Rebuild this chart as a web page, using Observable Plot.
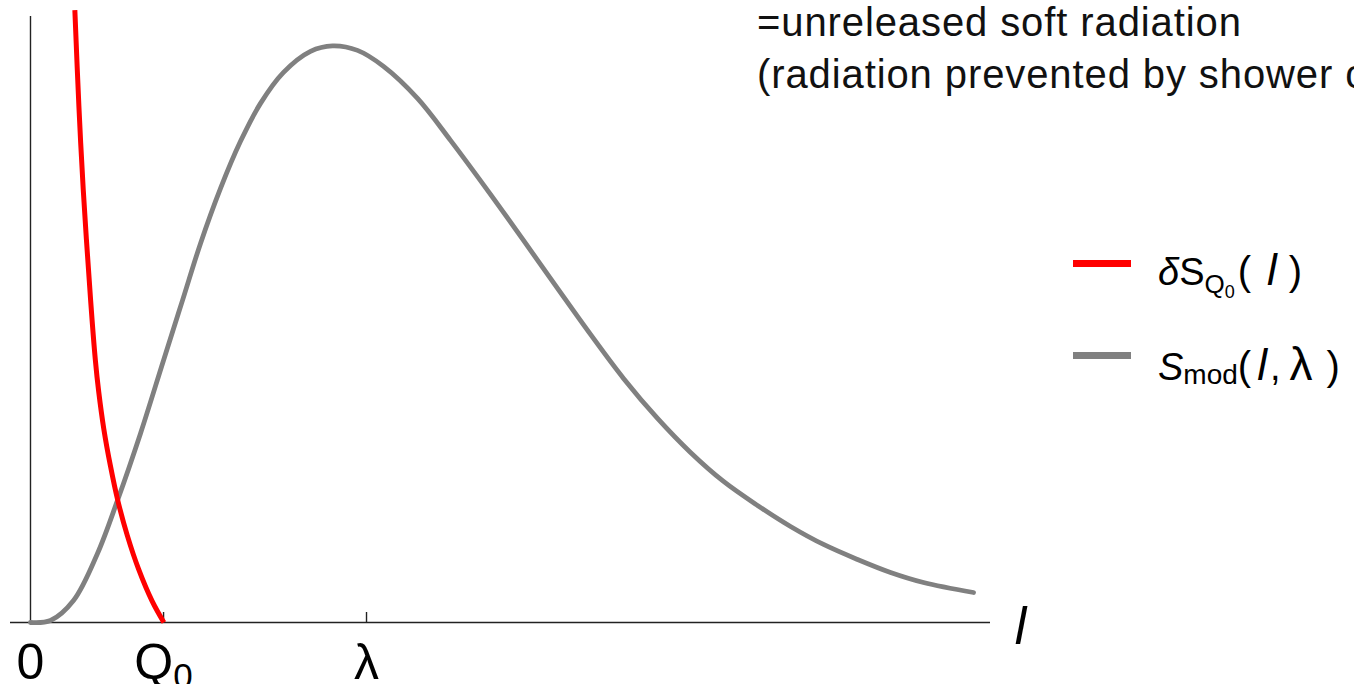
<!DOCTYPE html>
<html>
<head>
<meta charset="utf-8">
<script src="https://cdn.jsdelivr.net/npm/d3@7"></script>
<script src="https://cdn.jsdelivr.net/npm/@observablehq/plot@0.6"></script>
<style>
  html, body { margin: 0; padding: 0; background: #fff; overflow: hidden; }
  #wrap { position: relative; width: 1354px; height: 684px; overflow: hidden;
          font-family: "Liberation Sans", Arial, sans-serif; color: #000; }
  #wrap svg { position: absolute; left: 0; top: 0; }
  .note { position: absolute; left: 757px; top: -4px; font-size: 40px; line-height: 52px;
          letter-spacing: 0.9px; white-space: nowrap; color: #111; }
  .swatch { position: absolute; left: 1073px; width: 58px; height: 7px; }
  .leg { position: absolute; left: 1158px; font-size: 38px; line-height: 38px; white-space: nowrap; }
  .s1 { font-size: 26px; position: relative; top: 8px; }
  .s2 { font-size: 18px; position: relative; top: 5px; }
  .s3 { font-size: 28px; position: relative; top: 4px; }
  .p { font-size: 40px; }
  .li { font-size: 44px; font-style: italic; }
  .gl { font-size: 46px; }
</style>
</head>
<body>
<div id="wrap"></div>
<script>
// ---- data (x in units of λ, y relative to the S_mod peak) ----
const lGray = [0, 0.0595, 0.128, 0.1994, 0.2589, 0.3274, 0.3958, 0.4524, 0.5060, 0.5655, 0.6250,
               0.6845, 0.7530, 0.8333, 0.8988, 0.9732, 1.0506, 1.1518, 1.2500, 1.3690, 1.4673,
               1.5685, 1.6667, 1.7649, 1.8661, 1.9643, 2.0625, 2.1637, 2.2619, 2.3601, 2.4613,
               2.5595, 2.6577, 2.8065];
const sMod  = [0, 0.0035, 0.0381, 0.1196, 0.2115, 0.3276, 0.4541, 0.5581, 0.6568, 0.7522, 0.8337,
               0.8995, 0.9532, 0.9896, 0.9991, 0.9913, 0.9636, 0.9081, 0.8354, 0.7418, 0.6620,
               0.5789, 0.4991, 0.4229, 0.3536, 0.2946, 0.2444, 0.2028, 0.1664, 0.1352, 0.1092,
               0.0867, 0.0693, 0.0520];
const lRed   = [0.132, 0.144, 0.157, 0.179, 0.193, 0.203, 0.218, 0.238, 0.260, 0.288, 0.322, 0.362, 0.397];
const deltaS = [1.061, 0.895, 0.750, 0.558, 0.455, 0.400, 0.336, 0.271, 0.211, 0.151, 0.092, 0.037, 0];

const tickPositions = [0, 0.396, 1];
const tickLabels = ["0", "Q_0", "λ"];
const axisLabel = "l";
const legendLabels = [
  '<i>δ</i>S<span class="s1">Q<span class="s2">0</span></span><span class="p" style="margin-left:3px">(</span><span class="li" style="margin:0 12px 0 16px">l</span><span class="p">)</span>',
  '<i>S</i><span class="s3">mod</span><span class="p">(</span><span class="li" style="margin:0 3px 0 6px">l</span>,<span class="gl" style="margin:0 14px 0 9px">λ</span><span class="p">)</span>'
];
const legendColors = ["#ff0000", "#808080"];
const noteLines = ["=unreleased soft radiation", "(radiation prevented by shower c"];

// ---- chart ----
const grayData = lGray.map((l, i) => ({l, s: sMod[i]}));
const redData = lRed.map((l, i) => ({l, s: deltaS[i]}));

const chart = Plot.plot({
  width: 1354, height: 684,
  marginLeft: 10, marginRight: 364, marginTop: 16, marginBottom: 62,
  x: {domain: [-0.0595, 2.857], axis: null},
  y: {domain: [0, 1.05], axis: null},
  style: {fontFamily: "Liberation Sans, Arial, sans-serif", background: "transparent", overflow: "visible"},
  marks: [
    Plot.ruleY([0], {stroke: "#222", strokeWidth: 1.4}),
    Plot.ruleX([0], {stroke: "#222", strokeWidth: 1.4}),
    Plot.ruleX(tickPositions.slice(1), {y1: 0, y2: 0.0173, stroke: "#222", strokeWidth: 1.4}),
    Plot.line(grayData, {x: "l", y: "s", stroke: legendColors[1], strokeWidth: 4.8, curve: "catmull-rom"}),
    Plot.line(redData, {x: "l", y: "s", stroke: legendColors[0], strokeWidth: 5, curve: "catmull-rom", strokeLinecap: "butt"}),
    Plot.text(tickLabels, {x: (d, i) => tickPositions[i], y: 0, text: d => d, dy: 56,
      lineAnchor: "bottom", textAnchor: "middle", fontSize: 50, fill: "#000"}),
    Plot.text([axisLabel], {frameAnchor: "bottom-right", text: d => d, dx: 30, dy: 21,
      lineAnchor: "bottom", textAnchor: "middle", fontSize: 52, fontStyle: "italic", fill: "#000"})
  ]
});

// subscripts in tick labels ("Q_0")
const ns = "http://www.w3.org/2000/svg";
chart.querySelectorAll("text").forEach(t => {
  const s = t.textContent;
  if (s.includes("_")) {
    const [base, sub] = s.split("_");
    t.textContent = "";
    const a = document.createElementNS(ns, "tspan");
    a.textContent = base;
    const b = document.createElementNS(ns, "tspan");
    b.textContent = sub;
    b.setAttribute("font-size", "35");
    b.setAttribute("dy", "9");
    t.appendChild(a);
    t.appendChild(b);
  }
});

const wrap = document.getElementById("wrap");
wrap.appendChild(chart);

// annotation
const note = document.createElement("div");
note.className = "note";
note.innerHTML = noteLines.join("<br>");
wrap.appendChild(note);

// legend
const swatchCenters = [263, 355];
const baselines = [283, 377];
legendLabels.forEach((html, i) => {
  const sw = document.createElement("div");
  sw.className = "swatch";
  sw.style.top = (swatchCenters[i] - 3.5) + "px";
  sw.style.background = legendColors[i];
  wrap.appendChild(sw);
  const tx = document.createElement("div");
  tx.className = "leg";
  tx.style.top = (baselines[i] - 32.2) + "px";
  tx.innerHTML = html;
  wrap.appendChild(tx);
});
</script>
</body>
</html>
